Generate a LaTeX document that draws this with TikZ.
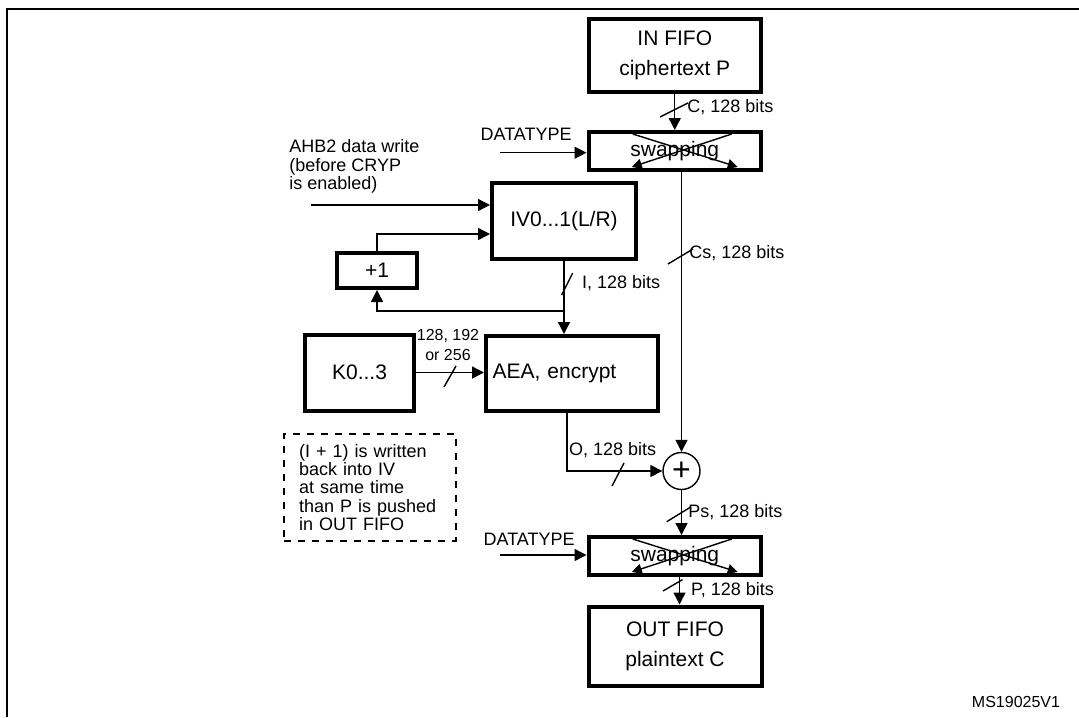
\documentclass[tikz,border=0pt]{standalone}
\usepackage{fontspec}
\setmainfont{Liberation Sans}
\usepackage{tikz}
\usetikzlibrary{arrows.meta, positioning, calc}
\newcommand{\blkfont}{\fontsize{10.5}{15}\selectfont}
\newcommand{\lblfont}{\fontsize{9}{9.25}\selectfont}
\newcommand{\smlfont}{\fontsize{8}{10}\selectfont}

\begin{document}
\begin{tikzpicture}[
  x=0.5pt, y=-0.5pt,
  blk/.style={draw, line width=2pt, inner sep=0pt, align=center, font=\blkfont},
  wire/.style={line width=0.7pt},
  arr/.style={wire, -{Triangle[length=6pt, width=6pt]}},
  xarr/.style={wire, -{Triangle[length=5pt, width=5pt]}},
  lbl/.style={font=\lblfont, inner sep=0pt},
  notebox/.style={draw, line width=0.8pt, dash pattern=on 3.5pt off 3.5pt, inner ysep=0pt, inner xsep=7.5pt,
    minimum width=85.85pt, minimum height=53.35pt, text width=70.85pt, align=left, font=\fontsize{9}{9.2}\selectfont}
]
  \useasboundingbox (0,0) rectangle (1079,717);
  \draw[line width=1pt] (7.3,717) -- (7.3,9.3) -- (1079,9.3);

  % blocks
  \node[blk, minimum width=86.25pt, minimum height=36.5pt] (infifo) at (674.75,55.5) {IN FIFO\\ciphertext P};
  \node[blk, minimum width=86.25pt, minimum height=19pt] (swapA) at (674.75,151) {swapping};
  \node[blk, minimum width=72pt, minimum height=38pt] (iv) at (564,221) {IV0...1(L/R)};
  \node[blk, minimum width=40pt, minimum height=17.5pt] (plus) at (377,270.5) {+1};
  \node[blk, minimum height=37.5pt, text width=79.4pt, inner xsep=3.3pt, align=left] (aea) at (572,373.5) {AEA, encrypt};
  \node[blk, minimum width=54.5pt, minimum height=38pt] (key) at (359.5,372.5) {K0...3};
  \node[draw, circle, wire, minimum size=18.5pt, inner sep=0pt, font=\fontsize{16}{16}\selectfont] (xor) at (681.5,471) {+};
  \node[blk, minimum width=86.25pt, minimum height=19pt] (swapB) at (674.75,556) {swapping};
  \node[blk, minimum width=86.5pt, minimum height=39.5pt] (outfifo) at (675,646) {OUT FIFO\\plaintext C};
  \node[notebox] (note) at (370,487.4) {(I + 1) is written\\back into IV\\at same time\\than P is pushed\\in OUT FIFO};

  % labels
  \node[lbl, anchor=west] (lblC) at (687,107) {C, 128 bits};
  \node[lbl, anchor=east] (dtA) at (572,134) {DATATYPE};
  \node[lbl, anchor=west, align=left] (ahb) at (289,166.7) {AHB2 data write\\(before CRYP\\is enabled)};
  \node[lbl, anchor=west] (lblCs) at (689,252.7) {Cs, 128 bits};
  \node[lbl, anchor=west] (lblI) at (581.7,282.7) {I, 128 bits};
  \node[font=\smlfont, inner sep=0pt, align=center] (lblK) at (448,345) {128, 192\\or 256};
  \node[lbl] (lblO) at (612.7,450) {O, 128 bits};
  \node[lbl, anchor=west] (lblPs) at (688,511.7) {Ps, 128 bits};
  \node[lbl, anchor=east] (dtB) at (575,539) {DATATYPE};
  \node[lbl, anchor=west] (lblP) at (690.7,590) {P, 128 bits};
  \node[font=\smlfont, inner sep=0pt] (ref) at (1016,702) {MS19025V1};

  % free ends
  \coordinate (dtAin) at (500,152.7);
  \coordinate (dtBin) at (500,555);
  \coordinate (ahbin) at (310.7,205);
  \coordinate (tap) at ($(iv.south)+(0,50)$);

  % connectors
  \draw[arr] (infifo) -- (swapA);
  \draw[arr] (dtAin) -- (dtAin -| swapA.west);
  \draw[arr] (ahbin) -- (ahbin -| iv.west);
  \draw[arr] (plus.north) |- ($(iv.west)+(0,13)$);
  \draw[arr] (iv.south) -- (iv.south |- aea.north);
  \draw[arr] (tap) -| (plus.south);
  \draw[arr] (key.east) -- (key.east -| aea.west);
  \draw[arr] ([xshift=-2.5pt]aea.south) |- (xor.west);
  \draw[arr] (xor.north |- swapA.south) -- (xor.north);
  \draw[arr] (xor.south) -- (xor.south |- swapB.north);
  \draw[arr] (dtBin) -- (dtBin -| swapB.west);
  \draw[arr] ([xshift=-1pt]xor.south |- swapB.south) -- ([xshift=-1pt]xor.south |- outfifo.north);

  % swapping crosses
  \foreach \sw in {swapA, swapB} {
    \draw[xarr] ($(\sw.center)+(-42,-17)$) -- ($(\sw.center)+(63,16)$);
    \draw[xarr] ($(\sw.center)+(57,-17)$) -- ($(\sw.center)+(-43,16)$);
  }

  % bus width marks
  \draw[wire] (660,117) -- (688,103);
  \draw[wire] (668,264) -- (693,249);
  \draw[wire] (561.7,295) -- (572.7,273);
  \draw[wire] (444,387) -- (456,366);
  \draw[wire] (612,486) -- (624,463);
  \draw[wire] (666.7,521.7) -- (690.7,507);
  \draw[wire] (663,591) -- (682.5,579.6);
\end{tikzpicture}
\end{document}
